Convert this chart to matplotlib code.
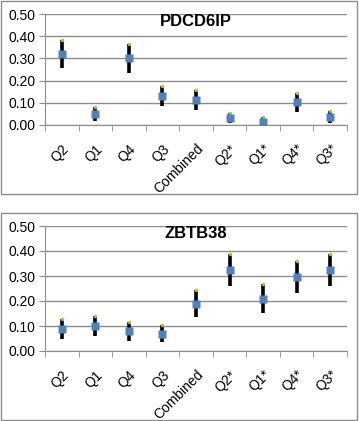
import numpy as np
import matplotlib
matplotlib.use("Agg")
import matplotlib.pyplot as plt
from matplotlib.patches import Rectangle

plt.rcParams['font.family'] = ['Liberation Sans', 'DejaVu Sans']

categories = ["Q2", "Q1", "Q4", "Q3", "Combined", "Q2*", "Q1*", "Q4*", "Q3*"]

# PDCD6IP
pdcd_mean = [0.32, 0.05, 0.30, 0.13, 0.113, 0.033, 0.015, 0.102, 0.037]
pdcd_low = [0.255, 0.02, 0.235, 0.085, 0.068, 0.008, 0.0, 0.06, 0.01]
pdcd_high = [0.385, 0.08, 0.365, 0.175, 0.158, 0.055, 0.035, 0.143, 0.063]

# ZBTB38
zbtb_mean = [0.09, 0.10, 0.08, 0.07, 0.19, 0.324, 0.21, 0.295, 0.325]
zbtb_low = [0.05, 0.06, 0.04, 0.035, 0.135, 0.26, 0.153, 0.233, 0.26]
zbtb_high = [0.13, 0.14, 0.115, 0.105, 0.244, 0.39, 0.268, 0.36, 0.39]

W, H = 359, 421
fig = plt.figure(figsize=(W / 100, H / 100), dpi=100)


def px_box(left, top, right, bottom):
    return [left / W, 1 - bottom / H, (right - left) / W, (bottom - top) / H]


def draw_panel(rect, title, mean, low, high, title_y):
    ax = fig.add_axes(rect)
    x = np.arange(len(categories))
    mean = np.array(mean)
    low = np.array(low)
    high = np.array(high)
    ax.set_xlim(-0.5, len(categories) - 0.5)
    ax.set_ylim(0, 0.5)
    ax.set_yticks(np.arange(0, 0.51, 0.1))
    ax.set_yticklabels([f"{v:.2f}" for v in np.arange(0, 0.51, 0.1)], fontsize=10)
    ax.yaxis.grid(True, color="#8c8c8c", lw=1)
    ax.set_axisbelow(True)
    for s in ["top", "right"]:
        ax.spines[s].set_visible(False)
    ax.spines["left"].set_color("#8c8c8c")
    ax.spines["bottom"].set_color("#8c8c8c")
    ax.tick_params(axis="y", length=4, color="#8c8c8c", pad=3)

    ax.set_xticks(x)
    ax.set_xticklabels(categories, rotation=45, ha="right", va="top",
                       rotation_mode="anchor", fontsize=10)
    ax.tick_params(axis="x", length=0, pad=12)
    ax.set_xticks(np.arange(-0.5, len(categories)), minor=True)
    ax.tick_params(axis="x", which="minor", length=4, color="#8c8c8c")

    ax.vlines(x, low, high, color="black", lw=2.6, zorder=3)
    ax.plot(x, high, ls="none", marker="o", ms=2.5, color="#9bc83c",
            mec="none", zorder=4)
    ax.plot(x, mean, ls="none", marker="s", ms=5.3, color="#4f81bd",
            mec="none", zorder=5)
    ax.text(0.5, title_y, title, transform=ax.transAxes, ha="center",
            va="center", fontsize=12, fontweight="bold")
    return ax


draw_panel(px_box(45, 14, 347, 125), "PDCD6IP", pdcd_mean, pdcd_low, pdcd_high, 0.935)
draw_panel(px_box(45, 226, 347, 351), "ZBTB38", zbtb_mean, zbtb_low, zbtb_high, 0.94)

# outer frames
for box in [(1, 1, 357, 194), (1, 213, 357, 420)]:
    l, t, r, b = box
    fig.patches.append(Rectangle((l / W, 1 - b / H), (r - l) / W, (b - t) / H,
                                 transform=fig.transFigure, fill=False,
                                 edgecolor="#8c8c8c", lw=1))

fig.savefig("out.png", dpi=100)
